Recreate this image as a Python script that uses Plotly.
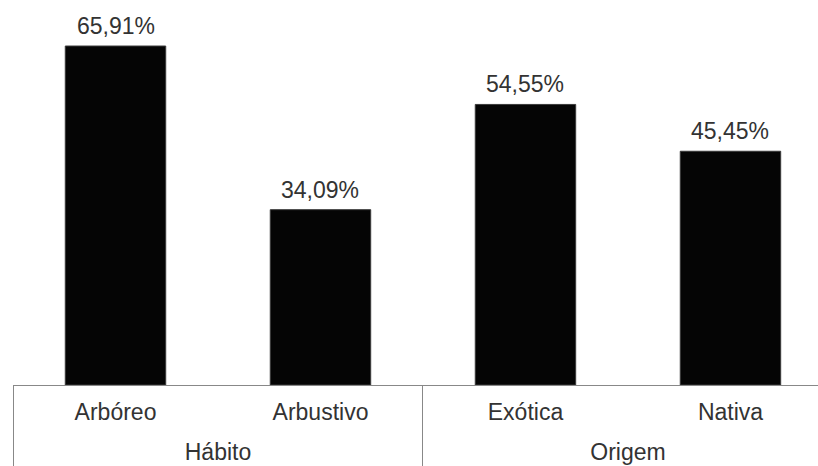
import plotly.graph_objects as go

groups = ["Hábito", "Origem"]
group_pos = [0.5, 2.5]
divider_pos = [-0.5, 1.5, 3.5]
categories = ["Arbóreo", "Arbustivo", "Exótica", "Nativa"]
values = [65.91, 34.09, 54.55, 45.45]
labels = ["65,91%", "34,09%", "54,55%", "45,45%"]

FONT = "Liberation Sans"
TXT = "#333333"
GRAY = "#888888"
XR = [-0.5, 3.427]

fig = go.Figure()
fig.add_trace(go.Bar(
    x=categories,
    y=values,
    width=0.49,
    marker=dict(color="#050505", line=dict(color="#3a3a3a", width=1)),
    text=labels,
    textposition="none",
    hoverinfo="skip",
))
# invisible carrier trace so the group-label axis is drawn
fig.add_trace(go.Scatter(
    x=group_pos, y=[0, 0], xaxis="x2", yaxis="y",
    mode="markers", marker=dict(opacity=0), hoverinfo="skip",
))

for c, v, t in zip(categories, values, labels):
    fig.add_annotation(x=c, y=v, text=t, showarrow=False, yanchor="bottom",
                       yshift=5, font=dict(family=FONT, size=23, color=TXT))

fig.update_layout(
    width=818, height=466,
    margin=dict(l=13, r=0, t=0, b=81),
    paper_bgcolor="white", plot_bgcolor="white",
    showlegend=False,
    font=dict(family=FONT, size=23, color=TXT),
    xaxis=dict(
        type="category", range=XR,
        showline=True, linecolor=GRAY, linewidth=1,
        ticks="", showgrid=False, ticklabelstandoff=6,
        tickfont=dict(family=FONT, size=23, color=TXT),
    ),
    xaxis2=dict(
        type="linear", overlaying="x", side="bottom", anchor="y", range=XR,
        tickmode="array", tickvals=group_pos, ticktext=groups,
        ticks="", showgrid=False, zeroline=False, showline=False,
        ticklabelstandoff=51,
        tickfont=dict(family=FONT, size=23, color=TXT),
        minor=dict(tickmode="array", tickvals=divider_pos, ticks="outside",
                   ticklen=81, tickcolor=GRAY, tickwidth=1, showgrid=False),
    ),
    yaxis=dict(range=[0, 74.86], visible=False, showgrid=False),
)

fig.write_html("out.html")
